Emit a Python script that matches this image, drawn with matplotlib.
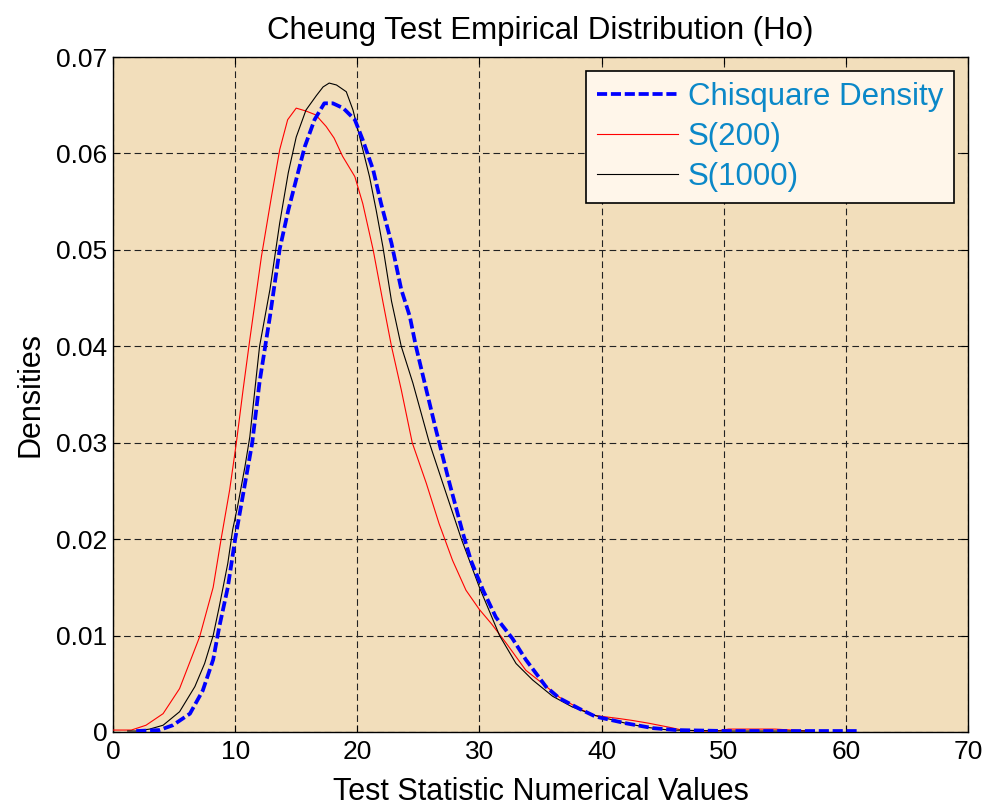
import matplotlib
matplotlib.use("Agg")
import matplotlib.pyplot as plt

plt.rcParams['font.family'] = ['Liberation Sans', 'DejaVu Sans']

# values
chi_x = [1.9, 3.8, 4.9, 6.3, 7.35, 8.2, 8.7, 9.4, 10.0, 10.7, 11.4, 12.0, 12.85,
         13.65, 14.35, 15.0, 15.7, 16.5, 17.3, 18.0, 18.85, 19.8, 20.45, 21.3,
         21.95, 22.8, 23.6, 24.3, 24.8, 25.65, 26.45, 27.55, 28.65, 29.3, 30.3,
         31.35, 32.7, 33.8, 35.45, 36.55, 38.2, 39.5, 42.0, 44.2, 46.1, 50.2, 61.1]
chi_y = [0.0001, 0.0002, 0.0007, 0.0019, 0.0043, 0.0075, 0.0109, 0.015, 0.020,
         0.025, 0.030, 0.0363, 0.0431, 0.0501, 0.0541, 0.0573, 0.0607, 0.0635,
         0.0652, 0.0652, 0.0647, 0.0635, 0.0614, 0.0583, 0.0548, 0.0507, 0.0459,
         0.0431, 0.040, 0.0355, 0.0313, 0.0258, 0.0206, 0.0178, 0.0147, 0.0119,
         0.0097, 0.0075, 0.0047, 0.0035, 0.0024, 0.0016, 0.0009, 0.0004, 0.0002,
         0.0001, 0.0001]

s200_x = [0, 1.5, 2.7, 4.1, 5.45, 7.1, 8.2, 8.85, 9.55, 10.1, 10.65, 11.2, 12.15,
          12.97, 13.65, 14.3, 15.0, 15.8, 16.6, 17.45, 18.1, 18.8, 19.8, 20.45,
          21.3, 22.1, 22.8, 23.6, 24.5, 25.65, 26.7, 27.8, 28.9, 30.0, 31.0, 32.2,
          33.8, 35.2, 36.55, 38.2, 39.5, 41.4, 42.5, 43.9, 45.5, 46.6, 48.0, 49.4,
          50.4, 54.2, 56.9]
s200_y = [0.0002, 0.0002, 0.0007, 0.0019, 0.0045, 0.0099, 0.015, 0.020, 0.0251,
          0.030, 0.0355, 0.0407, 0.0493, 0.0555, 0.0604, 0.0635, 0.0647, 0.0644,
          0.064, 0.0628, 0.0616, 0.0597, 0.0576, 0.0548, 0.050, 0.0446, 0.040,
          0.0355, 0.030, 0.0258, 0.0216, 0.0178, 0.0147, 0.0127, 0.0112, 0.0092,
          0.0064, 0.005, 0.0036, 0.0024, 0.0017, 0.0014, 0.0012, 0.0009, 0.0005,
          0.0002, 0.0001, 0.0001, 0.0003, 0.0003, 0.0001]

s1000_x = [1.2, 1.9, 3.0, 4.1, 5.45, 6.7, 7.5, 8.2, 8.7, 9.4, 9.8, 10.2, 10.8, 11.2,
           11.7, 12.0, 12.85, 13.65, 14.35, 15.0, 15.8, 16.65, 17.2, 17.7, 18.3,
           19.1, 19.65, 20.2, 21.0, 21.55, 22.1, 22.8, 23.6, 24.55, 25.9, 27.0,
           28.5, 30.0, 31.65, 33.0, 34.35, 36.0, 37.6, 39.5, 42.0, 43.6, 45.5,
           50.2, 57.2]
s1000_y = [0.0001, 0.0001, 0.0003, 0.0007, 0.0021, 0.0047, 0.0071, 0.010, 0.013,
           0.0175, 0.021, 0.0234, 0.0275, 0.0306, 0.0365, 0.040, 0.0459, 0.0528,
           0.058, 0.0617, 0.0645, 0.066, 0.0669, 0.0673, 0.0671, 0.0664, 0.0645,
           0.0617, 0.0576, 0.0541, 0.0503, 0.0447, 0.040, 0.0362, 0.030, 0.0258,
           0.0201, 0.015, 0.010, 0.0071, 0.0054, 0.0037, 0.0026, 0.0017, 0.0009,
           0.0005, 0.0002, 0.0001, 0.0001]

x_ticks = [0, 10, 20, 30, 40, 50, 60, 70]
y_ticks = [0, 0.01, 0.02, 0.03, 0.04, 0.05, 0.06, 0.07]
y_labels = ['0', '0.01', '0.02', '0.03', '0.04', '0.05', '0.06', '0.07']

fig = plt.figure(figsize=(9.87, 8.09), dpi=100)
ax = fig.add_axes([0.1145, 0.0952, 0.8662, 0.8343])
ax.set_facecolor('#F2DEBB')

ax.plot(chi_x, chi_y, color='#0000FF', lw=2.7, linestyle=(0, (2.7, 1.0)),
        label='Chisquare Density', zorder=4)
ax.plot(s200_x, s200_y, color='#FF0000', lw=0.8, label='S(200)', zorder=3)
ax.plot(s1000_x, s1000_y, color='black', lw=0.8, label='S(1000)', zorder=3)

ax.set_xlim(0, 70)
ax.set_ylim(0, 0.07)
ax.set_xticks(x_ticks)
ax.set_yticks(y_ticks)
ax.set_yticklabels(y_labels)
ax.tick_params(axis='both', direction='in', length=5, width=0.8, top=True,
               right=True, labelsize=19)
ax.tick_params(axis='y', pad=4)
ax.tick_params(axis='x', pad=6)
ax.grid(True, color='#222222', lw=0.8, linestyle=(0, (6, 3.5)))
for s in ax.spines.values():
    s.set_linewidth(1.0)

ax.set_title('Cheung Test Empirical Distribution (Ho)', fontsize=22.5, pad=13)
ax.set_xlabel('Test Statistic Numerical Values', fontsize=22, labelpad=9)
ax.set_ylabel('Densities', fontsize=22, labelpad=8)

leg = ax.legend(loc='upper right', fontsize=22.5, frameon=True, fancybox=False,
                framealpha=1, facecolor='#FFF6EA', edgecolor='black',
                handlelength=2.6, handletextpad=0.3, labelspacing=0.32,
                borderpad=0.35, borderaxespad=0.45)
leg.get_frame().set_linewidth(1.2)
for t in leg.get_texts():
    t.set_color('#0B88C8')

fig.savefig('out.png', dpi=100)
